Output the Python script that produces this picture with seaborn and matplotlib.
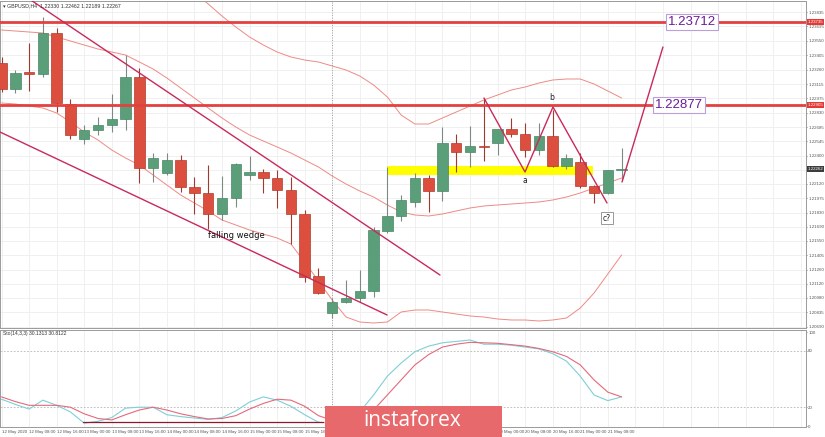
import numpy as np
import pandas as pd
import matplotlib
matplotlib.use("Agg")
import matplotlib.pyplot as plt
from matplotlib.patches import Rectangle
from matplotlib import transforms
import seaborn as sns

sns.set_theme(style="white")
plt.rcParams['font.family'] = ['DejaVu Sans']
NARROW = ['Liberation Sans Narrow', 'Liberation Sans', 'DejaVu Sans']

# ---------------- data (GBPUSD H4, 12 May 2020 00:00 -> 21 May 2020 08:00) ----------------
opens = [1.23325, 1.23065, 1.23235, 1.23215, 1.23625, 1.22915, 1.22565, 1.22655, 1.22705, 1.22765,
         1.23185, 1.22275, 1.22225, 1.22355, 1.22085, 1.22025, 1.21815, 1.21975, 1.22205, 1.22235,
         1.22175, 1.22055, 1.21815, 1.21195, 1.20825, 1.20935, 1.20975, 1.21045, 1.21645, 1.21795,
         1.21935, 1.22175, 1.22045, 1.22525, 1.22435, 1.22495, 1.22525, 1.22665, 1.22615, 1.22455,
         1.22595, 1.22295, 1.22335, 1.22095, 1.22025, 1.22255]
highs = [1.23385, 1.23255, 1.23525, 1.23785, 1.23675, 1.22965, 1.22705, 1.22785, 1.23015, 1.23405,
         1.23275, 1.22425, 1.22425, 1.22405, 1.22185, 1.22305, 1.22195, 1.22325, 1.22395, 1.22265,
         1.22255, 1.22185, 1.21855, 1.21275, 1.20975, 1.21155, 1.21255, 1.21685, 1.22285, 1.22005,
         1.22225, 1.22205, 1.22685, 1.22615, 1.22695, 1.22975, 1.22665, 1.22775, 1.22725, 1.22725,
         1.22855, 1.22415, 1.22425, 1.22105, 1.22255, 1.22475]
lows = [1.23035, 1.23025, 1.23045, 1.23185, 1.22835, 1.22565, 1.22515, 1.22605, 1.22635, 1.22655,
        1.22125, 1.22135, 1.22205, 1.22035, 1.21815, 1.21665, 1.21755, 1.21885, 1.22155, 1.22025,
        1.21875, 1.21515, 1.21135, 1.21015, 1.20775, 1.20925, 1.20935, 1.20985, 1.21625, 1.21745,
        1.21885, 1.21835, 1.21945, 1.22235, 1.22285, 1.22345, 1.22405, 1.22585, 1.22385, 1.22405,
        1.22285, 1.22265, 1.22075, 1.21925, 1.22015, 1.22155]
closes = [1.23065, 1.23225, 1.23215, 1.23625, 1.22925, 1.22605, 1.22655, 1.22705, 1.22765, 1.23185,
          1.22275, 1.22375, 1.22355, 1.22085, 1.22025, 1.21815, 1.21975, 1.22315, 1.22235, 1.22175,
          1.22055, 1.21815, 1.21185, 1.21025, 1.20935, 1.20975, 1.21045, 1.21655, 1.21795, 1.21955,
          1.22175, 1.22045, 1.22525, 1.22435, 1.22495, 1.22485, 1.22665, 1.22615, 1.22455, 1.22595,
          1.22295, 1.22375, 1.22095, 1.22025, 1.22255, 1.22262]

bb_upper = [1.24385, 1.24375, 1.24375, 1.24375, 1.24345, 1.24355, 1.24375, 1.24375, 1.24415, 1.24435,
            1.24365, 1.24325, 1.24245, 1.24145, 1.24035, 1.23915, 1.23795, 1.23685, 1.23585, 1.23505,
            1.23435, 1.23385, 1.23355, 1.23335, 1.23295, 1.23255, 1.23195, 1.23105, 1.22985, 1.22805,
            1.22715, 1.22715, 1.22775, 1.22835, 1.22895, 1.22955, 1.23005, 1.23055, 1.23085, 1.23125,
            1.23155, 1.23165, 1.23165, 1.23115, 1.23045, 1.22975]
bb_mid = [1.23655, 1.23645, 1.23635, 1.23625, 1.23585, 1.23545, 1.23505, 1.23465, 1.23435, 1.23405,
          1.23335, 1.23265, 1.23175, 1.23075, 1.22975, 1.22875, 1.22775, 1.22685, 1.22605, 1.22545,
          1.22485, 1.22425, 1.22355, 1.22285, 1.22195, 1.22115, 1.22045, 1.21985, 1.21905, 1.21835,
          1.21805, 1.21795, 1.21815, 1.21845, 1.21875, 1.21895, 1.21905, 1.21915, 1.21925, 1.21935,
          1.21955, 1.21985, 1.22025, 1.22075, 1.22125, 1.22175]
bb_lower = [1.22925, 1.22915, 1.22895, 1.22875, 1.22825, 1.22735, 1.22635, 1.22555, 1.22455, 1.22375,
            1.22305, 1.22205, 1.22105, 1.22005, 1.21925, 1.21845, 1.21755, 1.21705, 1.21655, 1.21615,
            1.21575, 1.21515, 1.21335, 1.21145, 1.20955, 1.20785, 1.20735, 1.20725, 1.20735, 1.20835,
            1.20855, 1.20855, 1.20835, 1.20815, 1.20795, 1.20785, 1.20765, 1.20755, 1.20755, 1.20745,
            1.20755, 1.20775, 1.20875, 1.21025, 1.21215, 1.21405]

stoch_k = [28.5, 23, 18, 27.5, 22, 15, 3, 5, 9, 19, 20, 20, 12, 10, 8.5, 7, 9, 16, 25.5, 31,
           27.5, 21, 12, 4, 3, 6, 15, 33, 53, 67, 79, 85, 88.5, 90, 91.5, 87, 87, 86, 84, 82,
           77, 69, 53, 33, 27, 31]
stoch_d = [31, 26, 22, 22, 22, 20, 13, 8, 6.5, 12, 17, 20, 17, 13, 10, 7.5, 8, 11, 18, 24,
           28.5, 27.5, 21, 11, 6, 5, 9, 17, 33, 49, 65, 76, 84, 87, 89, 88.5, 88, 86.5, 85, 82.5,
           79, 74, 65, 49, 36, 31]

time_labels = ["12 May 2020", "12 May 08:00", "12 May 16:00", "13 May 00:00", "13 May 08:00",
               "13 May 16:00", "14 May 00:00", "14 May 08:00", "14 May 16:00", "15 May 00:00",
               "15 May 08:00", "15 May 16:00", "18 May 00:00", "18 May 08:00", "18 May 16:00",
               "19 May 00:00", "19 May 08:00", "19 May 16:00", "20 May 00:00", "20 May 08:00",
               "20 May 16:00", "21 May 00:00", "21 May 08:00"]

price_ticks = [1.23835, 1.23695, 1.23550, 1.23405, 1.23260, 1.23115, 1.22975, 1.22830, 1.22685,
               1.22545, 1.22400, 1.22260, 1.22120, 1.21975, 1.21830, 1.21690, 1.21550, 1.21405,
               1.21260, 1.21120, 1.20980, 1.20835, 1.20690]
current_price = 1.22262

resistance_levels = [1.23735, 1.22905]
resistance_texts = ["1.23712", "1.22877"]
resistance_text_x = [50.11, 49.17]

wedge_top_x = [2.07, 31.82]
wedge_top_y = [1.23960, 1.21205]
wedge_bot_x = [-0.11, 27.98]
wedge_bot_y = [1.22635, 1.20805]
zigzag_x = [35.01, 37.99, 40.02, 43.94]
zigzag_y = [1.22975, 1.22235, 1.22885, 1.21925]
breakout_x = [45.03, 48.0]
breakout_y = [1.22135, 1.23485]
zone_x = [27.98, 42.92]
zone_y = [1.22205, 1.22295]
separator_x = 24.0
osc_line_x = [5.91, 23.33]
osc_line_y = [4.3, 4.3]

# ---------------- figure ----------------
W, H = 825, 437
fig = plt.figure(figsize=(W / 100, H / 100), dpi=100)
fig.patch.set_facecolor("white")
ax = fig.add_axes([0, (H - 328) / H, 806 / W, 327 / H])
axo = fig.add_axes([0, (H - 427) / H, 806 / W, 97 / H])

n = len(opens)
df = pd.DataFrame({"idx": np.arange(n), "open": opens, "high": highs, "low": lows,
                   "close": closes, "upper": bb_upper, "mid": bb_mid, "lower": bb_lower,
                   "k": stoch_k, "d": stoch_d})

XMIN, XMAX = -0.109, 58.38
ax.set_xlim(XMIN, XMAX)
ax.set_ylim(1.20675, 1.23945)
axo.set_xlim(XMIN, XMAX)
axo.set_ylim(-1.06, 102.13)

for a in (ax, axo):
    a.set_facecolor("white")
    for s in a.spines.values():
        s.set_color("#9a9a9a")
        s.set_linewidth(0.7)
    a.set_axisbelow(True)

TICKFS = 3.2
# grid / ticks
xt = np.arange(0, 59, 2)
ax.set_xticks(xt)
ax.tick_params(axis="x", labelbottom=False, length=0)
ax.yaxis.tick_right()
ax.set_yticks(price_ticks)
ax.set_yticklabels(["" if abs(p - 1.22260) < 1e-6 else f"{p:.5f}" for p in price_ticks],
                   family=NARROW)
ax.tick_params(axis="y", labelsize=TICKFS, colors="#555555", length=1.0, pad=0.6, width=0.5)
ax.grid(True, color="#eeeeee", linewidth=0.6)

axo.set_xticks(xt)
lbls = [time_labels[i] if i < len(time_labels) else "" for i in range(len(xt))]
axo.set_xticklabels(lbls, family=NARROW)
axo.tick_params(axis="x", labelsize=TICKFS, colors="#555555", length=1.5, pad=1, width=0.5)
for t in axo.get_xticklabels():
    t.set_horizontalalignment("left")
axo.yaxis.tick_right()
axo.set_yticks([0, 20, 80, 100])
axo.set_yticklabels(["0", "20", "80", "100"], family=NARROW)
axo.tick_params(axis="y", labelsize=TICKFS, colors="#555555", length=1.0, pad=0.6, width=0.5)
axo.grid(True, axis="x", color="#eeeeee", linewidth=0.6)
for lv in (20, 80):
    axo.axhline(lv, color="#b5b5b5", lw=0.6, ls=(0, (2, 2)), zorder=1)

# support zone
ax.add_patch(Rectangle((zone_x[0], zone_y[0]), zone_x[1] - zone_x[0], zone_y[1] - zone_y[0],
                       facecolor="#ffff00", edgecolor="none", zorder=1))

# bollinger bands
band_col = "#ee8a84"
for col in ("upper", "mid", "lower"):
    sns.lineplot(data=df, x="idx", y=col, ax=ax, color=band_col, linewidth=0.7,
                 estimator=None, sort=False, legend=False, zorder=2)

# candles
up = df["close"] >= df["open"]
dn = ~up
ax.vlines(df.loc[up, "idx"], df.loc[up, "low"], df.loc[up, "high"], color="#7d8a83", lw=0.8, zorder=3)
ax.vlines(df.loc[dn, "idx"], df.loc[dn, "low"], df.loc[dn, "high"], color="#9e3a30", lw=0.8, zorder=3)
hu = np.maximum((df.loc[up, "close"] - df.loc[up, "open"]).values, 0.00003)
hd = np.maximum((df.loc[dn, "open"] - df.loc[dn, "close"]).values, 0.00003)
ax.bar(df.loc[up, "idx"], hu, bottom=df.loc[up, "open"], width=0.76, color="#5b9e7a",
       edgecolor="#4a8566", linewidth=0.5, zorder=4)
ax.bar(df.loc[dn, "idx"], hd, bottom=df.loc[dn, "close"], width=0.76, color="#dc4f3e",
       edgecolor="#b03a2c", linewidth=0.5, zorder=4)

# resistance lines
for lv in resistance_levels:
    ax.axhline(lv, color="#e2413e", lw=2.0, zorder=5)

# trend lines
tl = "#c82a5a"
ax.plot(wedge_top_x, wedge_top_y, color=tl, lw=1.0, zorder=6)
ax.plot(wedge_bot_x, wedge_bot_y, color=tl, lw=1.0, zorder=6)
ax.plot(zigzag_x, zigzag_y, color=tl, lw=1.0, zorder=6)
ax.plot(breakout_x, breakout_y, color=tl, lw=1.0, zorder=6)

# separator
for a in (ax, axo):
    a.axvline(separator_x, color="#8a8a8a", lw=0.6, ls=(0, (1, 2)), zorder=2)

# text annotations
ax.text(17.02, 1.21605, "falling wedge", fontsize=6, color="#111111", ha="center", va="center", zorder=7)
ax.text(37.99, 1.22155, "a", fontsize=5.5, color="#222222", ha="center", va="center", zorder=7)
ax.text(39.95, 1.22985, "b", fontsize=5.5, color="#222222", ha="center", va="center", zorder=7)
ax.text(43.94, 1.21775, "c?", fontsize=5.5, color="#222222", ha="center", va="center", zorder=7,
        bbox=dict(boxstyle="square,pad=0.2", fc="white", ec="#888888", lw=0.6))
for lv, txt, tx in zip(resistance_levels, resistance_texts, resistance_text_x):
    ax.text(tx, lv, txt, fontsize=9.5, color="#6a1b9a", ha="center", va="center", zorder=8,
            family=["Liberation Sans", "DejaVu Sans"],
            bbox=dict(boxstyle="square,pad=0.18", fc="white", ec="#b9a0d8", lw=0.8))

# axis value boxes
btr = transforms.blended_transform_factory(ax.transAxes, ax.transData)
for lv in resistance_levels:
    ax.text(1.002, lv, f"{lv:.5f}", transform=btr, fontsize=TICKFS, color="white", ha="left",
            va="center", clip_on=False, zorder=9, family=NARROW,
            bbox=dict(boxstyle="square,pad=0.2", fc="#e53935", ec="none"))
ax.text(1.002, current_price, f"{current_price:.5f}", transform=btr, fontsize=TICKFS, color="white",
        ha="left", va="center", clip_on=False, zorder=9, family=NARROW,
        bbox=dict(boxstyle="square,pad=0.2", fc="#3c3c3c", ec="none"))

# stochastic
sns.lineplot(data=df, x="idx", y="k", ax=axo, color="#7ecfd6", linewidth=0.8,
             estimator=None, sort=False, legend=False, zorder=3)
sns.lineplot(data=df, x="idx", y="d", ax=axo, color="#e46a7b", linewidth=0.8,
             estimator=None, sort=False, legend=False, zorder=3)
axo.plot(osc_line_x, osc_line_y, color="#8b1a2b", lw=0.9, zorder=3)

for a in (ax, axo):
    a.set_xlabel("")
    a.set_ylabel("")

# headers
fig.text(3 / W, 1 - 6 / H, "\u25be GBPUSD,H4  1.22330 1.22462 1.22189 1.22267", fontsize=3.8,
         color="#333333", va="center", ha="left", family=NARROW)
fig.text(3 / W, 1 - 334 / H, "Sto(14,3,3) 30.1313 30.8122", fontsize=3.6, color="#333333",
         va="center", ha="left", family=NARROW)

# watermark banner
fig.add_artist(Rectangle((325 / W, 0), (502 - 325) / W, 31 / H, transform=fig.transFigure,
                         facecolor="#e8696b", edgecolor="none", zorder=20))
fig.text(412 / W, 1 - 421 / H, "instaforex", fontsize=15, color="white", ha="center",
         va="center", family=["Open Sans", "DejaVu Sans"], zorder=21)

fig.savefig("out.png", dpi=100, facecolor="white")
